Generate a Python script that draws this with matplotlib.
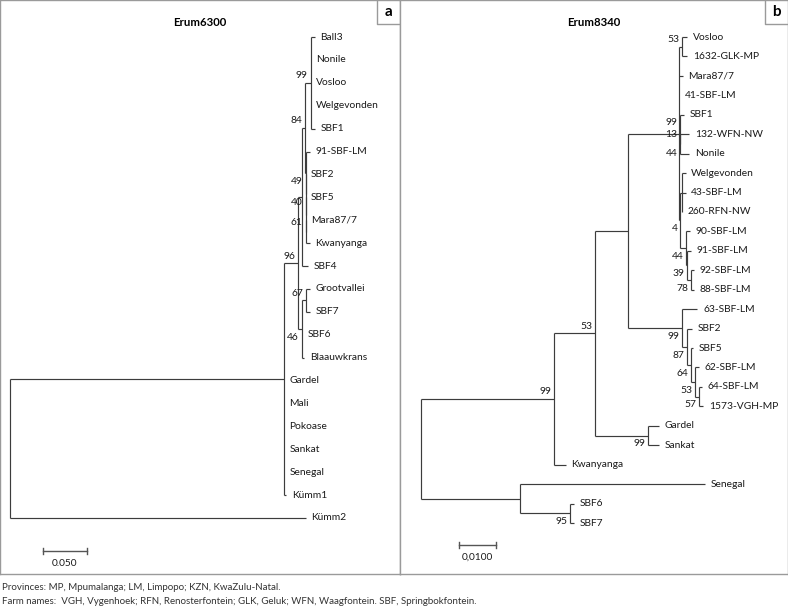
import matplotlib
matplotlib.use("Agg")
import matplotlib.pyplot as plt
from matplotlib.collections import LineCollection

plt.rcParams['font.family'] = ['Lato', 'DejaVu Sans']

# trees in newick form, branch lengths, bootstrap as node names
tree_a = ("((((((Ball3:0.0045,Nonile:0,Vosloo:0,Welgevonden:0,SBF1:0.0045)99:0.0068,"
          "(91-SBF-LM:0.0045,(SBF2:0,(SBF5:0,(Mara87/7:0,Kwanyanga:0.0045):0)61:0)40:0)49:0.001)84:0.0034,"
          "SBF4:0.0068):0.0045,"
          "((Grootvallei:0.0045,SBF7:0.0045)67:0.0045,SBF6:0,Blaauwkrans:0.003)46:0.0045)96:0.016,"
          "Gardel:0,Mali:0,Pokoase:0,Sankat:0,Senegal:0,Kümm1:0.003):0.311,"
          "Kümm2:0.336);")

tree_b = ("((((((Vosloo:0.0014,1632-GLK-MP:0.0014)53:0.0008,Mara87/7:0.001,41-SBF-LM:0,"
          "(SBF1:0.0011,((132-WFN-NW:0.0025)13:0,(Nonile:0.0025)44:0):0)99:0.0003,"
          "((Welgevonden:0.001,43-SBF-LM:0.001,260-RFN-NW:0):0.0004,"
          "(90-SBF-LM:0.001,(91-SBF-LM:0.001,(92-SBF-LM:0.0008,88-SBF-LM:0.0008)78:0.001)39:0.0003)44:0.0016)4:0.0004"
          "):0.0138,"
          "(63-SBF-LM:0.0042,(SBF2:0.0014,(SBF5:0.0006,(62-SBF-LM:0.0011,"
          "(64-SBF-LM:0.0008,1573-VGH-MP:0.0011)57:0.0011)53:0.0011)64:0.0011)87:0.0014)99:0.0146"
          "):0.0089,"
          "(Gardel:0.003,Sankat:0.003)99:0.0143)53:0.0111,"
          "Kwanyanga:0.0032)99:0.036,"
          "(Senegal:0.05,(SBF6:0.0011,SBF7:0.0011)95:0.0135):0.0268);")

titles = ["Erum6300", "Erum8340"]
panel_letters = ["a", "b"]
scale_lengths = [0.05, 0.01]
scale_labels = ["0.050", "0,0100"]

footnotes = ["Provinces: MP, Mpumalanga; LM, Limpopo; KZN, KwaZulu-Natal.",
             "Farm names:  VGH, Vygenhoek; RFN, Renosterfontein; GLK, Geluk; WFN, Waagfontein. SBF, Springbokfontein."]


def parse(s):
    pos = 0

    def node():
        nonlocal pos
        children = []
        if s[pos] == '(':
            pos += 1
            while True:
                children.append(node())
                if s[pos] == ',':
                    pos += 1
                    continue
                pos += 1
                break
        start = pos
        while s[pos] not in ':,);':
            pos += 1
        name = s[start:pos]
        length = 0.0
        if s[pos] == ':':
            pos += 1
            start = pos
            while s[pos] not in ',);':
                pos += 1
            length = float(s[start:pos])
        return {'name': name, 'len': length, 'children': children}

    return node()


def layout(n, x0, leaves, parent=None):
    n['x'] = x0 + n['len']
    n['parent'] = parent
    if not n['children']:
        n['y'] = len(leaves)
        leaves.append(n)
    else:
        for c in n['children']:
            layout(c, n['x'], leaves, n)
        n['y'] = (n['children'][0]['y'] + n['children'][-1]['y']) / 2


def walk(n):
    yield n
    for c in n['children']:
        yield from walk(c)


# pixel layout of the two panels: (left, width, root x, px per unit, first leaf y, last leaf y)
W, H = 788, 606
bottom_px = 574
panels = [(0, 400, 10, 880, 37, 518), (400, 388, 420.7, 3700, 37, 523)]
scale_y_px = [551, 545]
scale_x_px = [43, 459]

fig = plt.figure(figsize=(W / 100, H / 100), dpi=100)
line_col = '#3c3c3c'
fs = 7.4

for k, newick in enumerate([tree_a, tree_b]):
    left, width, root_px, ppu, y_first, y_last = panels[k]
    root_local = root_px - left
    root = parse(newick)
    leaves = []
    layout(root, 0.0, leaves)
    step = (y_last - y_first) / (len(leaves) - 1)

    ax = fig.add_axes([left / W, 1 - bottom_px / H, width / W, bottom_px / H])
    ax.set_xlim(-root_local / ppu, (width - root_local) / ppu)
    ax.set_ylim((bottom_px - y_first) / step, (0 - y_first) / step)
    ax.set_xticks([])
    ax.set_yticks([])
    for sp in ax.spines.values():
        sp.set_color('#9a9a9a')
        sp.set_linewidth(1.0)

    segs = []
    for n in walk(root):
        if n['children']:
            segs.append([(n['x'], n['children'][0]['y']), (n['x'], n['children'][-1]['y'])])
            for c in n['children']:
                if c['len'] > 0:
                    segs.append([(n['x'], c['y']), (c['x'], c['y'])])
    ax.add_collection(LineCollection(segs, colors=line_col, linewidths=0.85))

    for n in leaves:
        ax.annotate(n['name'], (n['x'], n['y']), xytext=(4, 0), textcoords='offset points',
                    ha='left', va='center', fontsize=fs, color='#1a1a1a')

    # bootstrap values: above the node, below it when it is the last child,
    # level with it when it hangs alone
    for n in walk(root):
        if n['children'] and n['name']:
            p = n['parent']
            if len(n['children']) == 1:
                dy = 0
            elif p is not None and p['children'][-1] is n:
                dy = -6
            else:
                dy = 5
            ax.annotate(n['name'], (n['x'], n['y']), xytext=(-2, dy), textcoords='offset points',
                        ha='right', va='center', fontsize=fs, color='#1a1a1a')

    # scale bar
    sx0 = (scale_x_px[k] - root_px) / ppu
    sy = (scale_y_px[k] - y_first) / step
    cap = 3 / step
    ax.plot([sx0, sx0 + scale_lengths[k]], [sy, sy], color='#555555', lw=1.0)
    for xx in [sx0, sx0 + scale_lengths[k]]:
        ax.plot([xx, xx], [sy - cap, sy + cap], color='#555555', lw=1.0)
    ax.text(sx0 + scale_lengths[k] / 2, sy + 12 / step, scale_labels[k], ha='center', va='center',
            fontsize=7.3, color='#1a1a1a')

    ax.text(0.5, 1 - 22 / bottom_px, titles[k], transform=ax.transAxes, ha='center', va='center',
            fontsize=8.2, fontweight='bold')

    # panel letter box in the upper right corner
    bw, bh = 23 / width, 24 / bottom_px
    ax.plot([1 - bw, 1 - bw, 1], [1, 1 - bh, 1 - bh], transform=ax.transAxes, color='#9a9a9a',
            lw=1.0, clip_on=False)
    ax.text(1 - bw / 2, 1 - bh / 2, panel_letters[k], transform=ax.transAxes, ha='center',
            va='center', fontsize=11, fontweight='bold')

fig.text(2 / W, 1 - 587 / H, footnotes[0], ha='left', va='center', fontsize=7.0, color='#333333')
fig.text(2 / W, 1 - 601 / H, footnotes[1], ha='left', va='center', fontsize=7.0, color='#333333')

fig.savefig('out.png', dpi=100)
